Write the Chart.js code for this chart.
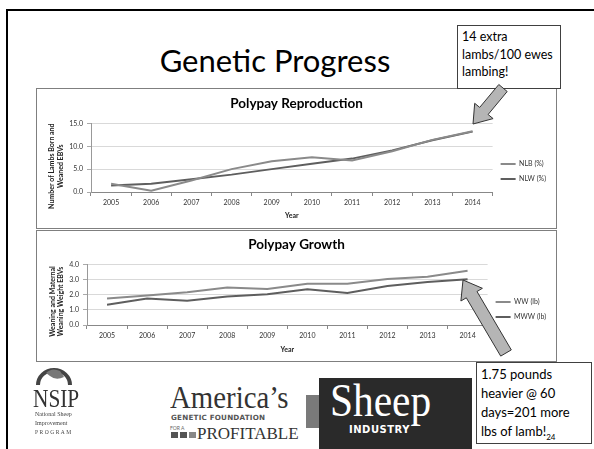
<!DOCTYPE html>
<html>
<head>
<meta charset="utf-8">
<script src="https://cdn.jsdelivr.net/npm/chart.js@4.4.1/dist/chart.umd.min.js"></script>
<style>
  body { margin: 0; width: 594px; height: 449px; background: #fff; position: relative; overflow: hidden; font-family: Lato, sans-serif; }
  .abs { position: absolute; }
  #frame { left: 6px; top: 9px; width: 600px; height: 460px; border-left: 2.5px solid #000; border-top: 2.5px solid #000; }
  #mainTitle { left: 120px; top: 41px; width: 310px; text-align: center; font-size: 31px; font-weight: 400; color: #000; }
  .box { border: 1px solid #7f7f7f; background: #fff; }
  .callout { border: 1px solid #404040; background: #fff; color: #000; font-family: Lato, sans-serif; }
  #c1 { left: 457px; top: 25px; width: 98px; height: 60px; font-size: 12.5px; line-height: 17.5px; padding: 2px 0 0 4px; box-sizing: content-box; }
  #c2 { left: 476px; top: 362px; width: 110px; height: 78px; font-size: 13px; line-height: 19px; padding: 2px 0 0 4px; }
</style>
</head>
<body>
<div id="frame" class="abs"></div>
<div id="mainTitle" class="abs">Genetic Progress</div>

<div class="abs box" style="left:36px;top:88px;width:519px;height:139px;"><canvas id="repro" width="519" height="139"></canvas></div>
<div class="abs box" style="left:36px;top:230px;width:519px;height:130px;"><canvas id="growth" width="519" height="130"></canvas></div>

<div id="c1" class="abs callout">14 extra<br>lambs/100 ewes<br>lambing!</div>

<!-- logos as text -->
<svg class="abs" style="left:30px;top:355px" width="50" height="34">
  <path d="M8 30 A16 15 0 1 1 40 30" fill="none" stroke="#444" stroke-width="4"/>
  <path d="M16 18 q6 -6 14 -2 l4 6 q-8 4 -14 -1 z" fill="#777"/>
</svg>
<div class="abs" style="left:33px;top:384px;font-family:'Liberation Serif',serif;font-size:26px;color:#333;transform:scaleX(0.82);transform-origin:left;">NSIP</div>
<div class="abs" style="left:35px;top:410px;font-family:'Liberation Serif',serif;font-size:6px;line-height:9px;color:#444;">National Sheep<br>Improvement<br><span style="letter-spacing:1.5px;font-size:5.5px">PROGRAM</span></div>

<div class="abs" style="left:170px;top:380px;font-family:'Liberation Serif',serif;font-size:31px;color:#333;transform:scaleX(0.93);transform-origin:left;">America’s</div>
<div class="abs" style="left:171px;top:413px;font-family:'DejaVu Sans',sans-serif;font-weight:bold;font-size:7.2px;color:#555;letter-spacing:0.2px;">GENETIC FOUNDATION</div>
<div class="abs" style="left:170px;top:425px;font-size:5px;color:#666;">FOR A</div>
<div class="abs" style="left:171px;top:432px;width:7px;height:6px;background:#555"></div>
<div class="abs" style="left:180px;top:432px;width:7px;height:6px;background:#555"></div>
<div class="abs" style="left:189px;top:432px;width:7px;height:6px;background:#888"></div>
<div class="abs" style="left:197px;top:424px;font-family:'Liberation Serif',serif;font-size:17px;color:#333;">PROFITABLE</div>

<div class="abs" style="left:306px;top:395px;width:13px;height:33px;background:#7a7a7a"></div>
<div class="abs" style="left:319px;top:378px;width:153px;height:71px;background:#2a2a2a"></div>
<div class="abs" style="left:330px;top:374px;font-family:'Liberation Serif',serif;font-size:46px;color:#fff;transform:scaleX(0.9);transform-origin:left;">Sheep</div>
<div class="abs" style="left:349px;top:424px;font-family:'DejaVu Sans',sans-serif;font-weight:bold;font-size:10px;color:#fff;letter-spacing:0.5px;">INDUSTRY</div>

<div id="c2" class="abs callout">1.75 pounds<br>heavier @ 60<br>days=201 more<br>lbs of lamb!<sub style="font-size:8px">24</sub></div>

<svg id="arrows" class="abs" style="left:0;top:0" width="594" height="449"></svg>

<script>
// data
var years = ['2005', '2006', '2007', '2008', '2009', '2010', '2011', '2012', '2013', '2014'];
var nlb = [1.8, 0.3, 2.5, 5.0, 6.7, 7.6, 6.9, 8.9, 11.4, 13.3];
var nlw = [1.4, 1.8, 2.8, 3.8, 5.0, 6.2, 7.3, 9.1, 11.3, 13.2];
var ww = [1.75, 1.95, 2.16, 2.47, 2.38, 2.73, 2.73, 3.04, 3.19, 3.58];
var mww = [1.33, 1.75, 1.60, 1.88, 2.03, 2.36, 2.12, 2.58, 2.84, 3.02];

var lightGrey = '#8a8a8a';
var darkGrey = '#5e5e5e';

Chart.defaults.font.family = "Lato, sans-serif";
Chart.defaults.color = '#333';

function lineSet(label, data, colour) {
	return { label: label, data: data, borderColor: colour, backgroundColor: colour,
		borderWidth: 2, pointRadius: 0, tension: 0, fill: false };
}

function makeChart(id, title, yTitle, sets, yMax, step, dims) {
	return new Chart(document.getElementById(id), {
		type: 'line',
		data: { labels: years, datasets: sets },
		options: {
			responsive: false,
			animation: false,
			layout: { padding: { left: 0, right: 0, top: 0, bottom: dims.padBottom } },
			plugins: {
				title: { display: true, text: title, color: '#000',
					font: { size: 13.5, weight: 'bold' }, padding: { top: dims.titleTop, bottom: 11.3 } },
				legend: { position: 'right',
					// blank legend title only pushes the two entries down
					title: { display: true, text: ' ', font: { size: 7 }, padding: { top: 25.6, bottom: 0 } },
					labels: { usePointStyle: true, pointStyle: 'line', pointStyleWidth: 15,
						font: { size: 7 }, padding: 8, color: '#333' } },
				tooltip: { enabled: false }
			},
			scales: {
				x: {
					offset: true,
					grid: { offset: true, drawOnChartArea: false, tickLength: 4, tickColor: '#888' },
					border: { color: '#888' },
					ticks: { font: { size: 7 }, padding: 3, maxRotation: 0 },
					title: { display: true, text: 'Year', font: { size: 7, weight: 'bold' }, padding: 0, color: '#222' },
					afterFit: function (s) { s.height = dims.xHeight; }
				},
				y: {
					min: 0, max: yMax,
					grid: { color: '#d9d9d9', tickLength: 4, tickColor: '#aaa' },
					border: { color: '#999' },
					ticks: { stepSize: step, font: { size: 7 }, padding: 4,
						callback: function (v) { return v.toFixed(1); } },
					title: { display: true, text: yTitle, font: { size: 7, weight: 'bold' },
						padding: { top: dims.yTitlePad, bottom: 0 }, color: '#222' },
					afterFit: function (s) { s.width = dims.yWidth; }
				}
			}
		}
	});
}

makeChart('repro', 'Polypay Reproduction',
	['Number of Lambs Born and          ', 'Weaned EBVs          '],
	[lineSet('NLB (%)', nlb, lightGrey), lineSet('NLW (%)', nlw, darkGrey)],
	15, 5, { padBottom: 8, titleTop: 6.9, xHeight: 28, yWidth: 54, yTitlePad: 11 });

makeChart('growth', 'Polypay Growth',
	['Weaning and Maternal        ', 'Weaning Weight EBVs        '],
	[lineSet('WW (lb)', ww, lightGrey), lineSet('MWW (lb)', mww, darkGrey)],
	4, 1, { padBottom: 7, titleTop: 5.9, xHeight: 29, yWidth: 50, yTitlePad: 11.5 });

// block arrows of the callouts
function arrow(tx, ty, px, py, shaft, head, headLen) {
	var dx = px - tx, dy = py - ty, len = Math.sqrt(dx * dx + dy * dy);
	var ux = dx / len, uy = dy / len, nx = -uy, ny = ux;
	var bx = px - ux * headLen, by = py - uy * headLen;
	var pts = [
		[tx + nx * shaft, ty + ny * shaft], [bx + nx * shaft, by + ny * shaft],
		[bx + nx * head, by + ny * head], [px, py],
		[bx - nx * head, by - ny * head], [bx - nx * shaft, by - ny * shaft],
		[tx - nx * shaft, ty - ny * shaft]
	];
	var p = document.createElementNS('http://www.w3.org/2000/svg', 'polygon');
	p.setAttribute('points', pts.map(function (q) { return q[0].toFixed(1) + ',' + q[1].toFixed(1); }).join(' '));
	p.setAttribute('fill', '#b5b5b5');
	p.setAttribute('stroke', '#333');
	p.setAttribute('stroke-width', '1');
	document.getElementById('arrows').appendChild(p);
}
arrow(503, 88, 473, 124, 5.5, 12, 17);
arrow(506, 353, 463, 280, 6.2, 12.5, 17);
</script>
</body>
</html>
